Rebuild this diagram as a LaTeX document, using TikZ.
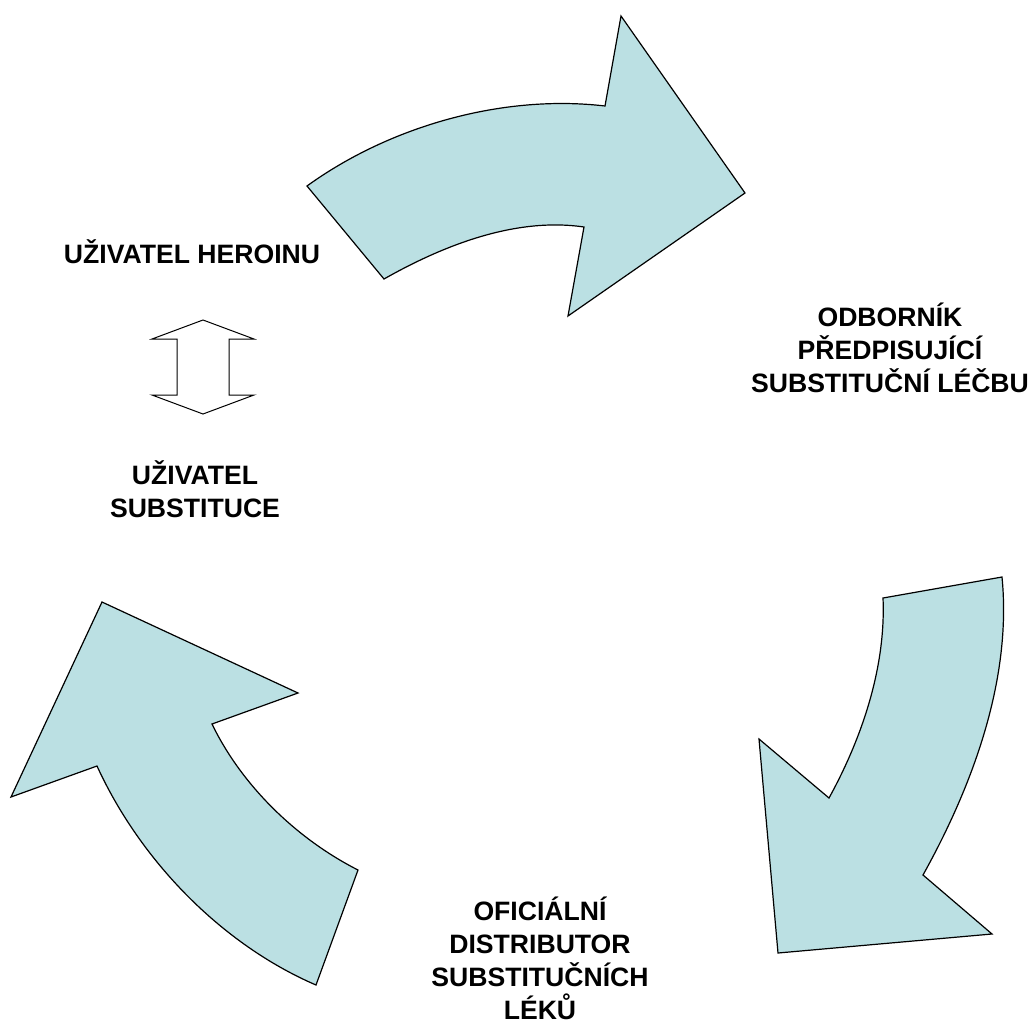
\documentclass[tikz,border=0pt]{standalone}
\usepackage{fontspec}
\setmainfont{Liberation Sans}
\definecolor{arrowfill}{RGB}{187,224,227}
\tikzset{
  cyclearrow/.style={fill=arrowfill,draw=black,line width=1.2pt,line join=miter},
  rolelabel/.style={font=\fontsize{26.6}{33}\selectfont\bfseries,align=center,inner sep=0pt,anchor=base}
}
\begin{document}
\begin{tikzpicture}[x=1pt,y=-1pt]
	\useasboundingbox (0,0) rectangle (1031,1023);
	% top arrow
	\draw[cyclearrow] (307,186) .. controls (390,126) and (503,94) .. (605,106) -- (621,16) -- (745,193) -- (568,316) -- (584,227) .. controls (516,217) and (444,245) .. (384,279) -- cycle;
	% right arrow
	\draw[cyclearrow] (1002,577) .. controls (1012,679) and (973,785) .. (923,875) -- (992,934) -- (778,953) -- (759,739) -- (829,798) .. controls (862,738) and (886,667) .. (883,598) -- cycle;
	% left arrow
	\draw[cyclearrow] (102,602) -- (298,693) -- (212,724) .. controls (242,786) and (297,839) .. (358,870) -- (316,985) .. controls (221,944) and (140,860) .. (97,766) -- (11,797) -- cycle;
	% up-down arrow
	\draw[line width=1pt,fill=white] (203,320) -- (254,339) -- (229,339) -- (229,395) -- (254,395) -- (203,414) -- (152,395) -- (177,395) -- (177,339) -- (152,339) -- cycle;

	% labels (base = last line)
	\node[rolelabel] (heroin) at (192,263) {UŽIVATEL HEROINU};
	\node[rolelabel] (substuser) at (195,517) {UŽIVATEL\\SUBSTITUCE};
	\node[rolelabel] (doctor) at (890,392) {ODBORNÍK\\PŘEDPISUJÍCÍ\\SUBSTITUČNÍ LÉČBU};
	\node[rolelabel] (distrib) at (540,1019) {OFICIÁLNÍ\\DISTRIBUTOR\\SUBSTITUČNÍCH\\LÉKŮ};
\end{tikzpicture}
\end{document}
